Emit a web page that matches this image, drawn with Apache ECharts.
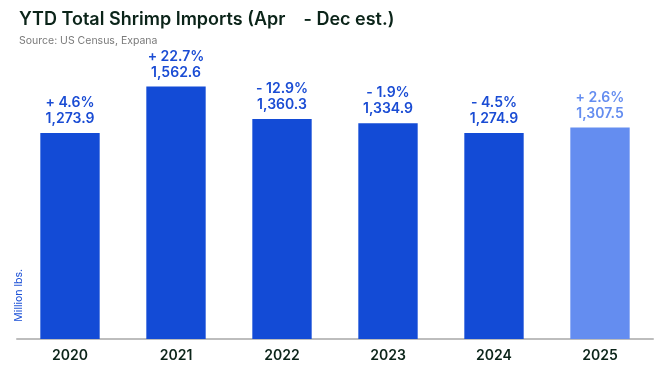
<!DOCTYPE html>
<html><head><meta charset="utf-8">
<script src="https://cdn.jsdelivr.net/npm/echarts@6/dist/echarts.min.js"></script>
<style>html,body{margin:0;padding:0;background:#fff}#c{width:666px;height:372px}</style>
</head><body><div id="c"></div>
<script>
const categories = ['2020','2021','2022','2023','2024','2025'];
const values = [1273.9, 1562.6, 1360.3, 1334.9, 1274.9, 1307.5];
const changes = ['+ 4.6%', '+ 22.7%', '- 12.9%', '- 1.9%', '- 4.5%', '+ 2.6%'];
const estimated = [false, false, false, false, false, true];

const dark = '#134bd6', light = '#648df0';
const chart = echarts.init(document.getElementById('c'), null, {renderer:'canvas'});
const fmt = v => v.toLocaleString('en-US', {minimumFractionDigits:1, maximumFractionDigits:1});
chart.setOption({
  animation:false,
  title:{
    text:'YTD Total Shrimp Imports (Apr    - Dec est.)',
    subtext:'Source: US Census, Expana',
    left:14, top:6, itemGap:6,
    textStyle:{fontFamily:'Inter', fontSize:18, fontWeight:600, color:'#0b2419'},
    subtextStyle:{fontFamily:'Inter', fontSize:10.5, color:'#7a7a7a'}
  },
  grid:{left:17, right:13, top:48, bottom:33},
  xAxis:{
    type:'category', data:categories,
    axisLine:{lineStyle:{color:'#bdbdbd', width:2}},
    axisTick:{show:false},
    axisLabel:{margin:10, fontFamily:'Inter', fontSize:14, fontWeight:600, color:'#0b2419'}
  },
  yAxis:{type:'value', min:0, max:1800, show:false},
  graphic:[{type:'text', left:13, top:269, rotation:Math.PI/2,
    style:{text:'Million lbs.', fontFamily:'Inter', fontSize:10.5, fill:'#1a4fd6'}}],
  series:[{
    type:'bar', barWidth:'56%',
    data: values.map((v,i)=>({value:v, itemStyle:{color: estimated[i]?light:dark},
      label:{color: estimated[i]?light:'#1a4cd4'}})),
    label:{show:true, position:'top', distance:6, fontFamily:'Inter', fontSize:14, fontWeight:600, lineHeight:16,
      formatter: p => changes[p.dataIndex] + '\n' + fmt(p.value)}
  }]
});
</script></body></html>
